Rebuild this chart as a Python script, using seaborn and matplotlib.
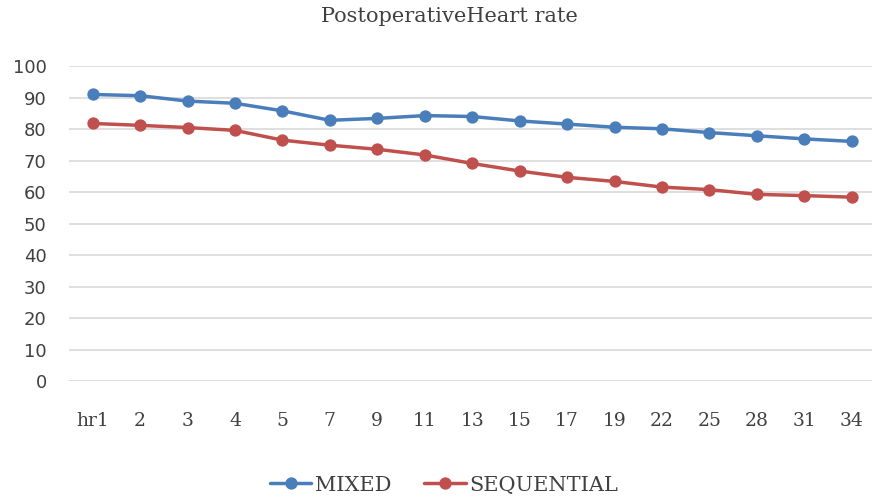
import numpy as np
import pandas as pd
import matplotlib.pyplot as plt
import seaborn as sns

hours = ['hr1', '2', '3', '4', '5', '7', '9', '11', '13', '15', '17', '19', '22', '25', '28', '31', '34']
mixed = [91.0, 90.6, 88.9, 88.2, 85.8, 82.8, 83.4, 84.3, 84.0, 82.6, 81.6, 80.6, 80.1, 78.9, 77.9, 76.9, 76.1]
sequential = [81.8, 81.2, 80.5, 79.6, 76.5, 74.9, 73.6, 71.8, 69.1, 66.7, 64.7, 63.4, 61.6, 60.8, 59.3, 58.9, 58.4]

df = pd.DataFrame({
    'hour': hours * 2,
    'rate': mixed + sequential,
    'group': ['MIXED'] * len(hours) + ['SEQUENTIAL'] * len(hours),
})

sns.set_style('white')
serif = ['DejaVu Serif']

fig = plt.figure(figsize=(8.72, 4.97), dpi=100)
ax = fig.add_axes([0.079, 0.233, 0.925, 0.634])

sns.pointplot(
    data=df, x='hour', y='rate', hue='group', order=hours,
    palette={'MIXED': '#4a7ebb', 'SEQUENTIAL': '#c0504d'},
    markers='o', markersize=7, linewidth=2.5, errorbar=None, ax=ax,
)

ax.set_ylim(0, 100)
ax.set_xlim(-0.5, 16.5)
ax.set_yticks(np.arange(0, 101, 10))
ax.grid(axis='y', color='#d9d9d9', linewidth=1.2)
ax.set_axisbelow(True)
for s in ax.spines.values():
    s.set_visible(False)
ax.tick_params(axis='both', length=0)
ax.tick_params(axis='y', labelsize=13, labelcolor='#404040', pad=16)
ax.tick_params(axis='x', labelsize=13.5, labelcolor='#404040', pad=22)
for lbl in ax.get_xticklabels():
    lbl.set_family(serif)
ax.set_xlabel('')
ax.set_ylabel('')

fig.suptitle('PostoperativeHeart rate', x=0.515, y=0.985, fontsize=15, family=serif, color='#404040')

handles, labels = ax.get_legend_handles_labels()
ax.legend(handles, labels, loc='upper center', bbox_to_anchor=(0.465, -0.24), ncol=2, frameon=False,
          prop={'family': serif, 'size': 15}, handlelength=2.0, columnspacing=1.6, handletextpad=0.15,
          labelcolor='#404040')

fig.savefig('out.png', dpi=100)
